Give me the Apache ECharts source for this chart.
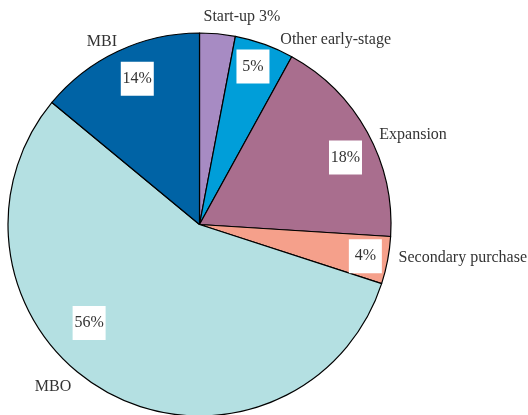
<!DOCTYPE html>
<html>
<head>
<meta charset="utf-8">
<script src="https://cdn.jsdelivr.net/npm/echarts@6/dist/echarts.min.js"></script>
<style>
  html, body { margin: 0; padding: 0; background: #fff; }
  #chart { width: 528px; height: 415px; }
</style>
</head>
<body>
<div id="chart"></div>
<script>
// slices, clockwise from 12 o'clock
const names = ['Start-up', 'Other early-stage', 'Expansion', 'Secondary purchase', 'MBO', 'MBI']
const shares = [3, 5, 18, 4, 56, 14]
const colors = ['#A78BC3', '#009ED9', '#A96E8E', '#F5A08B', '#B4E0E2', '#0063A5']
// Start-up carries its share in the name label, not in a box
const shareInName = ['Start-up']

// small hand nudges so labels sit where the original put them
const nameNudge = {
    'Start-up': [-19, -17],
    'Other early-stage': [11, -5],
    'Expansion': [7, 3],
    'Secondary purchase': [6, -3],
    'MBO': [-31, -6],
    'MBI': [4, -9]
}
const boxNudge = {
    'Other early-stage': [-2, -4],
    'Expansion': [2.5, 12],
    'Secondary purchase': [5, 1],
    'MBO': [-31.5, -45],
    'MBI': [7.5, 2.5]
}

const chart = echarts.init(document.getElementById('chart'), null, { renderer: 'canvas' })
const font = '"Liberation Serif", "Times New Roman", serif'
const center = [199.5, 224.5]
const R = 191.5

const pieData = names.map((n, i) => ({
    name: n,
    value: shares[i],
    itemStyle: { color: colors[i] }
}))

const boxData = names.map((n, i) => ({
    name: n,
    value: shares[i],
    label: { show: shareInName.indexOf(n) < 0 }
}))

const option = {
    animation: false,
    backgroundColor: '#fff',
    series: [{
        type: 'pie',
        center: center,
        radius: [0, R],
        startAngle: 90,
        clockwise: true,
        avoidLabelOverlap: false,
        itemStyle: { borderColor: '#000', borderWidth: 1.2 },
        emphasis: { disabled: true },
        label: {
            show: true,
            position: 'outside',
            fontFamily: font,
            fontSize: 16,
            color: '#333',
            formatter: p => shareInName.indexOf(p.name) >= 0 ? p.name + ' ' + p.value + '%' : p.name
        },
        labelLine: { show: false, length: 0, length2: 0 },
        labelLayout: p => {
            const d = nameNudge[names[p.dataIndex]] || [0, 0]
            return { dx: d[0], dy: d[1] }
        },
        data: pieData
    }, {
        type: 'pie',
        center: center,
        radius: [130, R],
        startAngle: 90,
        clockwise: true,
        silent: true,
        avoidLabelOverlap: false,
        itemStyle: { color: 'rgba(0,0,0,0)', borderWidth: 0 },
        label: {
            position: 'inside',
            fontFamily: font,
            fontSize: 16,
            lineHeight: 16,
            color: '#333',
            backgroundColor: '#fff',
            width: 29,
            overflow: 'none',
            align: 'center',
            padding: [9, 2],
            formatter: '{c}%'
        },
        labelLine: { show: false },
        labelLayout: p => {
            const d = boxNudge[names[p.dataIndex]] || [0, 0]
            return { dx: d[0], dy: d[1] }
        },
        data: boxData
    }]
}

chart.setOption(option)
</script>
</body>
</html>
